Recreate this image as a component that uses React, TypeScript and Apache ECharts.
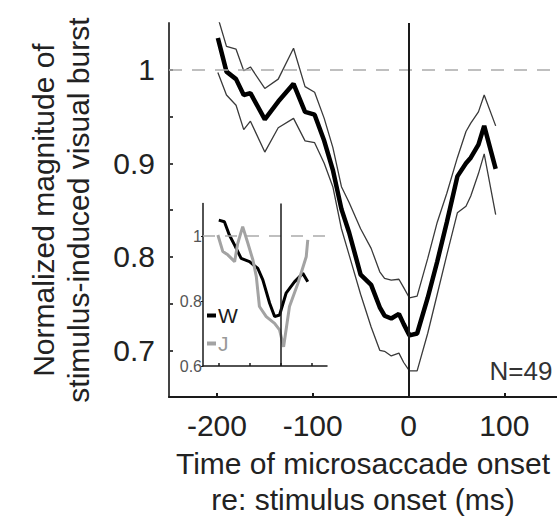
import React, { useEffect, useRef } from "react";
import * as echarts from "echarts";

// Population average (main panel): time re: stimulus onset (ms)
const timeMs = [-199, -190, -180, -172, -165, -150, -136, -120, -108, -98, -88, -79, -70, -62, -50, -39, -30, -25, -18, -10, -5, 1, 9, 20, 30, 40, 51, 60, 65, 73, 79, 91];
const meanBurst = [1.034, 0.998, 0.99, 0.973, 0.975, 0.947, 0.966, 0.985, 0.955, 0.952, 0.924, 0.893, 0.851, 0.826, 0.781, 0.77, 0.746, 0.737, 0.734, 0.739, 0.728, 0.716, 0.718, 0.756, 0.795, 0.837, 0.886, 0.9, 0.906, 0.92, 0.94, 0.894];
const upperBound = [1.056, 1.025, 1.022, 0.999, 1.003, 0.98, 0.99, 1.023, 0.982, 0.976, 0.948, 0.917, 0.875, 0.858, 0.83, 0.809, 0.784, 0.777, 0.775, 0.776, 0.767, 0.756, 0.758, 0.798, 0.837, 0.868, 0.906, 0.934, 0.943, 0.955, 0.973, 0.94];
const lowerBound = [0.997, 0.973, 0.962, 0.936, 0.945, 0.912, 0.938, 0.948, 0.924, 0.922, 0.9, 0.875, 0.83, 0.802, 0.76, 0.725, 0.7, 0.699, 0.694, 0.697, 0.687, 0.678, 0.678, 0.718, 0.76, 0.802, 0.847, 0.854, 0.865, 0.889, 0.91, 0.845];

// Individual monkeys (inset)
const timeW = [-199, -181, -165, -148, -127, -100, -73, -57, -35, -19, -3, 18, 45, 72, 88];
const burstW = [1.049, 1.044, 1.003, 0.972, 0.931, 0.921, 0.9, 0.865, 0.793, 0.752, 0.757, 0.824, 0.859, 0.885, 0.859];
const timeJ = [-202, -186, -170, -148, -138, -122, -105, -89, -78, -68, -46, -19, -3, 10, 29, 56, 83, 88];
const burstJ = [1.003, 0.952, 0.942, 0.921, 0.977, 1.029, 0.977, 0.926, 0.875, 0.783, 0.752, 0.731, 0.711, 0.659, 0.783, 0.854, 0.936, 0.988];

const xTicks = [-200, -100, 0, 100];
const yLabels = [0.7, 0.8, 0.9, 1];
const yTicks = [0.7, 0.75, 0.8, 0.85, 0.9, 0.95, 1];
const insetYTicks = [0.6, 0.8, 1];
const sampleLabel = "N=49";

const pair = (xs: number[], ys: number[]) => xs.map((x, i) => [x, ys[i]]);

export default function App() {
  const ref = useRef<HTMLDivElement>(null);

  useEffect(() => {
    const chart = echarts.init(ref.current!, null, { renderer: "svg" });
    const font = "'Liberation Sans', Arial, sans-serif";
    const dark = "#1a1a1a";
    const grey = "#a3a3a3";

    chart.setOption({
      animation: false,
      backgroundColor: "#ffffff",
      grid: [
        { left: 169, top: 23, width: 388, height: 382 },
        { left: 203, top: 203.5, width: 124, height: 162.5 },
      ],
      xAxis: [
        {
          type: "value",
          gridIndex: 0,
          min: -250,
          max: 155,
          axisLine: { onZero: false, lineStyle: { color: dark, width: 2 } },
          axisTick: { inside: true, length: 4, customValues: xTicks, lineStyle: { color: dark, width: 2 } },
          axisLabel: { customValues: xTicks, fontSize: 30, color: "#222", fontFamily: font, margin: 13 },
          splitLine: { show: false },
          name: "Time of microsaccade onset\nre: stimulus onset (ms)",
          nameLocation: "middle",
          nameGap: 46,
          nameTextStyle: { fontSize: 30, lineHeight: 36, color: "#222", fontFamily: font },
        },
        {
          type: "value",
          gridIndex: 1,
          min: -250,
          max: 150,
          axisLine: { onZero: false, lineStyle: { color: dark, width: 1.5 } },
          axisTick: { inside: true, length: 3, customValues: xTicks, lineStyle: { color: dark, width: 1.5 } },
          axisLabel: { show: false },
          splitLine: { show: false },
        },
      ],
      yAxis: [
        {
          type: "value",
          gridIndex: 0,
          min: 0.65,
          max: 1.05,
          axisLine: { show: true, onZero: false, lineStyle: { color: "#444", width: 2 } },
          axisTick: { show: true, inside: true, length: 4, customValues: yTicks, lineStyle: { color: "#444", width: 2 } },
          axisLabel: {
            customValues: yLabels,
            fontSize: 30,
            color: "#222",
            fontFamily: font,
            margin: 14,
            formatter: (v: number) => String(Math.round(v * 10) / 10),
          },
          splitLine: { show: false },
          name: "Normalized magnitude of\nstimulus-induced visual burst",
          nameLocation: "middle",
          nameRotate: 90,
          nameGap: 73,
          nameTextStyle: { fontSize: 30, lineHeight: 35, color: "#222", fontFamily: font },
        },
        {
          type: "value",
          gridIndex: 1,
          min: 0.6,
          max: 1.1,
          axisLine: { show: true, onZero: false, lineStyle: { color: dark, width: 1.5 } },
          axisTick: { show: true, inside: false, length: 2, customValues: insetYTicks, lineStyle: { color: dark } },
          axisLabel: {
            customValues: insetYTicks,
            fontSize: 16,
            color: "#555",
            fontFamily: font,
            margin: 1,
            formatter: (v: number) => String(Math.round(v * 10) / 10),
          },
          splitLine: { show: false },
        },
      ],
      legend: {
        data: [
          { name: "W", textStyle: { color: dark } },
          { name: "J", textStyle: { color: "#999" } },
        ],
        orient: "vertical",
        left: 207,
        top: 305,
        icon: "rect",
        itemWidth: 9,
        itemHeight: 4,
        itemGap: 7,
        padding: 0,
        selectedMode: false,
        textStyle: { fontSize: 21, fontFamily: font, padding: [0, 0, 0, -3] },
      },
      graphic: [
        {
          type: "text",
          x: 521,
          y: 371,
          style: { text: sampleLabel, fontSize: 26, fontFamily: font, fill: "#333", align: "center", verticalAlign: "middle" },
        },
      ],
      series: [
        {
          name: "upper",
          type: "line",
          xAxisIndex: 0,
          yAxisIndex: 0,
          data: pair(timeMs, upperBound),
          showSymbol: false,
          lineStyle: { color: "#3a3a3a", width: 1.3 },
        },
        {
          name: "lower",
          type: "line",
          xAxisIndex: 0,
          yAxisIndex: 0,
          data: pair(timeMs, lowerBound),
          showSymbol: false,
          lineStyle: { color: "#3a3a3a", width: 1.3 },
        },
        {
          name: "mean",
          type: "line",
          xAxisIndex: 0,
          yAxisIndex: 0,
          data: pair(timeMs, meanBurst),
          showSymbol: false,
          lineStyle: { color: "#000", width: 4.5 },
          markLine: {
            silent: true,
            symbol: "none",
            label: { show: false },
            data: [
              { yAxis: 1, lineStyle: { color: "#aaa", width: 1.6, type: [13, 10] } },
              { xAxis: 0, lineStyle: { color: dark, width: 2, type: "solid" } },
            ],
          },
        },
        {
          name: "W",
          type: "line",
          xAxisIndex: 1,
          yAxisIndex: 1,
          data: pair(timeW, burstW),
          showSymbol: false,
          color: "#000",
          lineStyle: { color: "#000", width: 3 },
          markLine: {
            silent: true,
            symbol: "none",
            label: { show: false },
            data: [
              { yAxis: 1, lineStyle: { color: "#aaa", width: 1.5, type: [12, 10] } },
              { xAxis: 0, lineStyle: { color: dark, width: 1.5, type: "solid" } },
            ],
          },
        },
        {
          name: "J",
          type: "line",
          xAxisIndex: 1,
          yAxisIndex: 1,
          data: pair(timeJ, burstJ),
          showSymbol: false,
          color: grey,
          lineStyle: { color: grey, width: 3 },
        },
      ],
    });

    return () => chart.dispose();
  }, []);

  return <div ref={ref} style={{ position: "absolute", left: 0, top: 0, width: 557, height: 522 }} />;
}
